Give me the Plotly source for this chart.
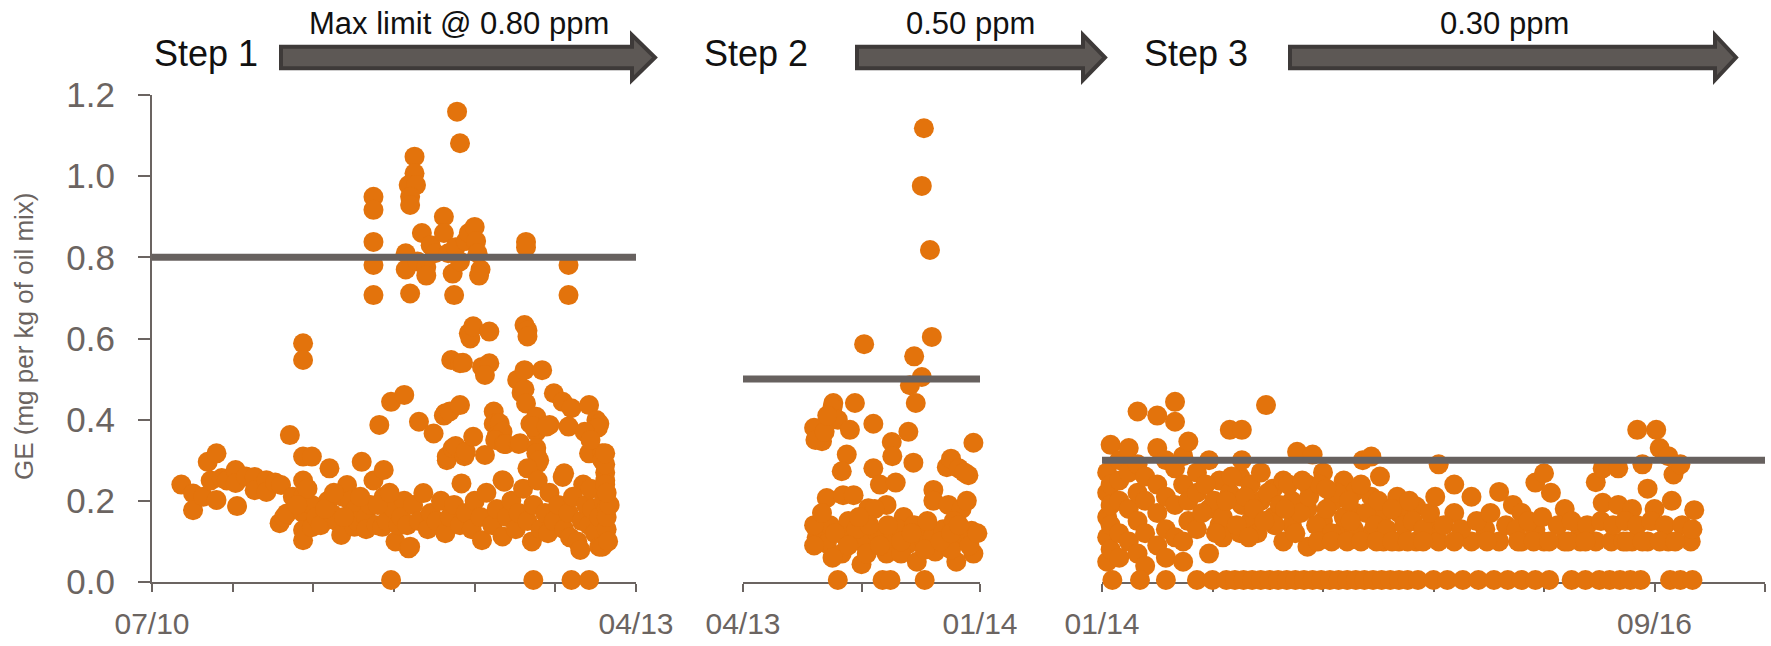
import plotly.graph_objects as go

# ---------------- data (months since start of each step, GE mg/kg) ----------------
step1_points = [
    (2.0,0.24),(2.8,0.218),(2.8,0.177),(3.5,0.21),(3.8,0.296),(4.0,0.25),(4.4,0.317),(4.4,0.202),
    (4.75,0.256),(5.1,0.25),(5.7,0.276),(5.7,0.244),(5.8,0.187),(6.4,0.26),(7.0,0.259),(7.0,0.226),
    (7.8,0.251),(7.8,0.222),(8.4,0.245),(8.8,0.239),(8.7,0.145),(9.0,0.16),(9.2,0.169),(9.4,0.362),
    (9.6,0.21),(10.3,0.588),(10.3,0.547),(10.3,0.309),(10.9,0.309),(10.3,0.25),(10.3,0.21),(10.3,0.17),
    (10.3,0.128),(10.3,0.103),(10.9,0.19),(10.9,0.135),(10.6,0.23),(11.2,0.16),(11.5,0.14),(12.0,0.2),
    (12.1,0.28),(12.25,0.169),(12.6,0.15),(12.9,0.116),(13.0,0.21),(13.3,0.239),(13.5,0.2),(13.8,0.136),
    (13.9,0.18),(14.0,0.15),(14.3,0.296),(14.6,0.16),(14.6,0.13),(14.9,0.19),(15.1,0.25),(15.3,0.14),
    (15.8,0.276),(15.8,0.21),(15.7,0.136),(16.0,0.15),(16.5,0.18),(16.6,0.10),(16.8,0.14),(17.2,0.2),
    (9.9,0.19),(11.8,0.18),(12.4,0.22),(13.1,0.16),(14.2,0.21),(15.4,0.19),(16.2,0.22),
    (16.3,0.005),
    (15.1,0.949),(15.1,0.917),(15.1,0.838),(15.1,0.781),(15.1,0.707),(17.6,0.711),(20.6,0.707),
    (28.4,0.781),(28.4,0.707),(25.5,0.838),(25.5,0.825),
    (20.8,1.159),(21.0,1.081),(17.9,1.048),(17.9,1.007),(17.5,0.978),(18.0,0.978),(17.6,0.949),(17.6,0.929),
    (17.3,0.81),(17.3,0.77),(18.1,0.79),(18.4,0.86),(18.7,0.776),(18.7,0.755),(19.0,0.83),(19.3,0.81),
    (19.9,0.90),(19.9,0.86),(20.2,0.81),(20.5,0.76),(20.7,0.825),(21.0,0.79),(21.4,0.84),(21.6,0.86),
    (22.0,0.875),(22.1,0.84),(22.2,0.81),(22.4,0.77),(22.3,0.755),
    (15.5,0.387),(16.3,0.444),(17.2,0.461),(18.2,0.395),(19.2,0.366),(19.9,0.41),(20.0,0.416),(20.3,0.42),
    (21.0,0.436),(20.1,0.30),(20.1,0.309),(20.5,0.33),(20.7,0.335),(21.3,0.31),(21.4,0.321),(21.9,0.358),
    (22.7,0.313),(23.3,0.42),(23.3,0.39),(23.7,0.391),(23.5,0.36),(23.9,0.37),(23.4,0.35),(24.0,0.34),
    (24.1,0.34),(25.0,0.34),(25.1,0.342),(25.8,0.39),(26.2,0.37),(26.2,0.33),(26.2,0.317),(26.3,0.292),
    (26.4,0.30),(25.6,0.28),(24.0,0.247),(28.1,0.268),(29.8,0.317),(30.7,0.317),(30.7,0.30),(30.9,0.27),
    (30.9,0.25),(30.9,0.29),(29.4,0.24),
    (21.6,0.613),(21.7,0.60),(21.9,0.63),(23.0,0.617),(25.4,0.633),(25.6,0.62),(25.6,0.605),(20.4,0.547),
    (21.0,0.539),(21.2,0.54),(22.5,0.53),(23.0,0.539),(22.7,0.51),(24.9,0.498),(25.4,0.522),(26.6,0.522),
    (25.2,0.466),(25.4,0.475),(25.5,0.44),(27.4,0.465),(28.0,0.444),(28.6,0.428),(29.8,0.436),(30.3,0.399),
    (30.5,0.39),(30.4,0.38),(28.4,0.383),(27.1,0.387),(26.2,0.407),(26.0,0.383),(26.9,0.383),(29.5,0.37),
    (29.9,0.35),(30.9,0.317),
    (17.0,0.16),(17.4,0.14),(17.5,0.083),(17.6,0.087),(17.8,0.19),(18.2,0.15),(18.5,0.219),(18.8,0.13),
    (19.0,0.17),(19.4,0.15),(19.7,0.2),(20.0,0.12),(20.3,0.16),(20.6,0.19),(21.0,0.14),(21.1,0.243),
    (21.4,0.17),(21.8,0.13),(22.0,0.2),(22.4,0.16),(22.5,0.103),(22.8,0.22),(23.2,0.14),(23.5,0.18),
    (23.9,0.251),(23.9,0.112),(24.2,0.16),(24.5,0.2),(24.8,0.13),(25.0,0.17),(25.3,0.23),(25.6,0.15),
    (25.9,0.10),(26.0,0.19),(26.3,0.25),(26.5,0.13),(26.8,0.17),(27.0,0.12),(27.1,0.22),(27.4,0.15),
    (27.7,0.19),(28.0,0.259),(28.1,0.13),(28.4,0.17),(28.5,0.11),(28.7,0.21),(29.0,0.10),(29.2,0.079),
    (29.3,0.15),(29.6,0.19),(29.8,0.14),(29.9,0.23),(30.0,0.18),(30.2,0.12),(30.5,0.087),(30.5,0.16),
    (30.7,0.087),(30.8,0.2),(31.0,0.13),(31.0,0.182),(31.0,0.16),(31.2,0.19),(30.9,0.24),(31.1,0.10),
    (31.0,0.22),(26.0,0.005),(28.6,0.005),(29.8,0.005),
]

step2_points = [
    (6.87,1.118),(6.79,0.976),(7.1,0.818),(7.17,0.604),(4.6,0.586),(6.5,0.556),(6.79,0.505),(6.34,0.485),
    (6.56,0.441),(3.43,0.441),(4.25,0.441),(3.4,0.43),(3.6,0.40),(2.92,0.36),(3.0,0.347),(4.06,0.375),
    (4.95,0.39),(6.28,0.37),(8.75,0.343),(3.94,0.314),(3.75,0.273),(5.65,0.345),(5.67,0.31),(6.47,0.294),
    (4.95,0.28),(7.74,0.283),(7.9,0.304),(8.56,0.263),(7.23,0.227),(3.18,0.207),(3.8,0.214),(4.2,0.214),
    (4.76,0.182),(5.45,0.19),(5.2,0.24),(5.8,0.245),(7.23,0.20),(7.8,0.19),(8.3,0.18),(8.68,0.126),
    (8.75,0.07),(8.1,0.05),(2.92,0.13),(2.8,0.11),(3.18,0.095),(3.9,0.11),(3.75,0.07),(4.5,0.10),
    (4.5,0.044),(5.1,0.12),(5.45,0.07),(5.7,0.11),(6.1,0.16),(6.3,0.095),(6.8,0.11),(7.2,0.11),
    (7.3,0.075),(7.6,0.13),(8.3,0.11),(5.0,0.18),(3.3,0.14),(4.0,0.15),(4.3,0.13),(4.8,0.14),
    (5.9,0.13),(6.5,0.14),(7.0,0.15),(8.0,0.15),(8.5,0.2),(6.0,0.07),(6.6,0.05),(7.9,0.08),
    (2.7,0.14),(2.7,0.09),(3.0,0.17),(3.4,0.06),(3.5,0.12),(4.0,0.09),(4.4,0.16),(4.7,0.07),
    (5.2,0.09),(5.5,0.14),(6.0,0.10),(6.4,0.12),(6.9,0.08),(7.5,0.10),(7.9,0.12),(8.2,0.14),
    (8.6,0.09),(8.9,0.12),(2.7,0.38),(2.75,0.35),(3.1,0.37),(3.2,0.41),(8.2,0.28),(8.4,0.27),
    (3.6,0.005),(5.3,0.005),(5.6,0.005),(6.9,0.005),
]

step3_points = [
    (0.3,0.27),(0.3,0.22),(0.3,0.16),(0.3,0.11),(0.3,0.05),
    (0.5,0.338),(0.5,0.24),(0.5,0.19),(0.5,0.14),(0.5,0.08),
    (1.0,0.30),(1.0,0.25),(1.0,0.20),(1.0,0.12),(1.0,0.06),
    (1.55,0.33),(1.55,0.27),(1.55,0.18),(1.55,0.10),
    (2.06,0.42),(2.06,0.29),(2.06,0.22),(2.06,0.15),(2.06,0.07),
    (2.5,0.26),(2.5,0.20),(2.5,0.12),(2.5,0.04),
    (3.2,0.41),(3.2,0.33),(3.2,0.24),(3.2,0.17),(3.2,0.09),
    (3.7,0.30),(3.7,0.21),(3.7,0.13),(3.7,0.06),
    (4.23,0.444),(4.23,0.395),(4.23,0.28),(4.23,0.19),(4.23,0.11),
    (4.7,0.31),(4.7,0.24),(4.7,0.10),(4.7,0.05),
    (5.0,0.346),(5.0,0.20),(5.0,0.15),(5.5,0.27),(5.5,0.22),(5.5,0.13),
    (6.2,0.30),(6.2,0.18),(6.2,0.07),(6.8,0.25),(6.8,0.14),(7.0,0.11),
    (7.4,0.375),(7.4,0.22),(8.0,0.12),(8.0,0.26),(8.1,0.375),(8.1,0.30),(8.1,0.19),
    (8.6,0.24),(8.6,0.15),(9.2,0.20),(9.2,0.27),(9.5,0.436),(9.9,0.23),(9.9,0.16),
    (10.5,0.10),(10.5,0.25),(11.0,0.20),(11.0,0.14),(11.3,0.321),(11.9,0.087),(11.9,0.24),(11.9,0.18),
    (12.2,0.314),(12.8,0.27),(12.8,0.15),(13.4,0.20),(14.0,0.25),(14.0,0.13),(14.7,0.225),(14.7,0.17),
    (15.1,0.30),(15.6,0.309),(15.6,0.21),(15.6,0.12),(16.3,0.17),(16.3,0.10),(17.1,0.21),(17.2,0.17),
    (17.2,0.10),(18.2,0.186),(18.2,0.10),(19.0,0.13),(19.5,0.29),(19.5,0.10),(20.4,0.24),(20.4,0.17),
    (21.4,0.21),(21.4,0.10),(22.2,0.13),(23.0,0.222),(23.0,0.10),(23.8,0.19),(24.3,0.17),(24.3,0.10),
    (25.1,0.245),(25.1,0.13),(25.6,0.268),(25.6,0.10),(26.0,0.22),(26.8,0.18),(26.8,0.10),(27.7,0.13),
    (27.7,0.10),(28.6,0.246),(28.6,0.10),(29.0,0.28),(29.0,0.195),(29.5,0.10),(29.9,0.28),(29.9,0.19),
    (30.2,0.10),(30.7,0.18),(30.7,0.10),(31.0,0.375),(31.3,0.29),(31.6,0.23),(31.6,0.10),(32.0,0.18),
    (32.1,0.375),(32.3,0.33),(32.8,0.31),(32.8,0.10),(33.0,0.20),(33.1,0.265),(33.5,0.29),(34.1,0.10),
    (34.3,0.177),
    (6.0,0.24),(6.5,0.20),(7.0,0.16),(7.5,0.26),(7.8,0.14),(8.3,0.21),(8.8,0.18),(9.0,0.12),(9.6,0.22),
    (10.0,0.14),(10.3,0.19),(10.8,0.24),(11.2,0.12),(11.5,0.17),(12.0,0.21),(12.4,0.14),(12.6,0.24),
    (13.0,0.18),(13.3,0.12),(13.6,0.22),(14.0,0.16),(14.3,0.20),(14.6,0.13),(15.0,0.24),(15.3,0.17),
    (15.8,0.14),(16.0,0.20),(16.5,0.13),(16.8,0.18),(17.5,0.14),(18.0,0.15),(18.6,0.13),(19.0,0.17),
    (19.8,0.14),(20.8,0.13),(21.7,0.15),(22.5,0.17),(23.4,0.14),(24.0,0.13),(24.7,0.15),(25.5,0.16),
    (26.4,0.14),(27.2,0.15),(28.1,0.14),(28.9,0.15),(29.6,0.14),(30.3,0.15),(31.0,0.14),(31.8,0.15),
    (32.6,0.14),(33.6,0.14),(34.2,0.13),
    (12.5,0.10),(13.3,0.10),(14.2,0.10),(15.0,0.10),(15.9,0.10),(16.8,0.10),(17.7,0.10),(18.6,0.10),
    (20.4,0.10),(22.3,0.10),(24.1,0.10),(25.0,0.10),(25.9,0.10),(27.0,0.10),(28.0,0.10),(30.4,0.10),
    (31.3,0.10),(32.3,0.10),(33.2,0.10),
    (5.8,0.17),(6.6,0.12),(7.2,0.20),(8.5,0.11),(9.4,0.15),(10.6,0.18),(11.6,0.25),(13.0,0.23),
    (14.4,0.15),(16.1,0.26),(17.8,0.20),(19.3,0.21),
]
step3_zero_months = [
    0.6, 2.2, 3.7, 5.5, 6.4, 7.2, 7.7, 8.2, 8.7, 9.2, 9.7, 10.2, 10.7, 11.2, 11.7, 12.2, 12.7, 13.2,
    13.7, 14.2, 14.7, 15.2, 15.7, 16.2, 16.7, 17.2, 17.7, 18.3, 19.2, 20.0, 20.9, 21.8, 22.7, 23.5,
    24.3, 25.1, 25.9, 27.2, 28.0, 28.8, 29.4, 30.0, 30.6, 31.2, 32.9, 33.5, 34.2,
]
step3_zero_value = 0.005

limits = [0.80, 0.50, 0.30]
step_spans = [33, 9, 38.4]           # months covered by each axis
step1_ticks = [0, 5.5, 11, 16.5, 22, 27.5, 33]
step1_ticktext = ["07/10", "", "", "", "", "", "04/13"]
step2_ticks = [0, 4.5, 9]
step2_ticktext = ["04/13", "", "01/14"]
step3_ticks = [0, 6.4, 12.8, 19.2, 25.6, 32.0, 38.4]
step3_ticktext = ["01/14", "", "", "", "", "09/16", ""]
y_ticks = [0, 0.2, 0.4, 0.6, 0.8, 1.0, 1.2]
step_labels = ["Step 1", "Step 2", "Step 3"]
limit_labels = ["Max limit @ 0.80 ppm", "0.50 ppm", "0.30 ppm"]
y_title = "GE (mg per kg of oil mix)"

# ---------------- styling ----------------
W, H = 1771, 646
ORANGE = "#E3730C"
GREY = "#6B6461"
LINE_GREY = "#67615F"
FONT = "Liberation Sans, Arial, sans-serif"


def px(x):
    return x / W


def py(y):
    return (H - y) / H


fig = go.Figure()

panels = [
    ("x", step1_points),
    ("x2", step2_points),
    ("x3", step3_points + [(m, step3_zero_value) for m in step3_zero_months]),
]
for xa, pts in panels:
    fig.add_trace(go.Scatter(
        x=[p[0] for p in pts], y=[p[1] for p in pts], xaxis=xa, yaxis="y",
        mode="markers", marker=dict(size=20, color=ORANGE, line=dict(width=0)),
        cliponaxis=False, showlegend=False, hoverinfo="skip"))

for xa, lim, span in zip(["x", "x2", "x3"], limits, step_spans):
    fig.add_trace(go.Scatter(
        x=[0, span], y=[lim, lim], xaxis=xa, yaxis="y", mode="lines",
        line=dict(color=LINE_GREY, width=7), cliponaxis=False,
        showlegend=False, hoverinfo="skip"))

ydom = [py(582), py(95)]
xdoms = [[px(152), px(636)], [px(743), px(980)], [px(1102), px(1765)]]

common_x = dict(showgrid=False, zeroline=False, showline=True, linecolor=GREY, linewidth=2,
                ticks="outside", ticklen=8, tickwidth=2, tickcolor=GREY, layer="below traces",
                tickfont=dict(family=FONT, size=30, color=GREY), anchor="y", automargin=False,
                ticklabelstandoff=6, fixedrange=True)

fig.update_layout(
    template="none",
    width=W, height=H, autosize=False,
    margin=dict(l=0, r=0, t=0, b=0, pad=0, autoexpand=False),
    paper_bgcolor="white", plot_bgcolor="white",
    xaxis=dict(domain=xdoms[0], range=[0, step_spans[0]], tickvals=step1_ticks,
               ticktext=step1_ticktext, **common_x),
    xaxis2=dict(domain=xdoms[1], range=[0, step_spans[1]], tickvals=step2_ticks,
                ticktext=step2_ticktext, **common_x),
    xaxis3=dict(domain=xdoms[2], range=[0, step_spans[2]], tickvals=step3_ticks,
                ticktext=step3_ticktext, **common_x),
    yaxis=dict(domain=ydom, range=[0, 1.2], anchor="x", tickvals=y_ticks,
               ticktext=[f"{v:.1f}" for v in y_ticks], showgrid=False, zeroline=False,
               showline=True, linecolor=GREY, linewidth=2, ticks="outside", ticklen=12,
               tickwidth=2, tickcolor=GREY, layer="below traces", ticklabelstandoff=16,
               automargin=False,
               tickfont=dict(family=FONT, size=35, color=GREY), fixedrange=True),
    showlegend=False,
)

# block arrows (decoration)
arrows = [(281, 632, 655), (857, 1083, 1105), (1290, 1715, 1736)]
yc, bh, hh = 57.5, 10.8, 22.5
for x0, xh, xt in arrows:
    path = (f"M {px(x0)} {py(yc-bh)} L {px(xh)} {py(yc-bh)} L {px(xh)} {py(yc-hh)} "
            f"L {px(xt)} {py(yc)} L {px(xh)} {py(yc+hh)} L {px(xh)} {py(yc+bh)} "
            f"L {px(x0)} {py(yc+bh)} Z")
    fig.add_shape(type="path", path=path, xref="paper", yref="paper",
                  fillcolor="#5D5855", line=dict(color="#3E3A39", width=4))

step_x = [206, 756, 1196]
limit_x = [459, 970, 1504]
for lab, x in zip(step_labels, step_x):
    fig.add_annotation(text=lab, x=px(x), y=py(54), xref="paper", yref="paper",
                       xanchor="center", yanchor="middle", showarrow=False,
                       font=dict(family=FONT, size=36, color="#111111"))
for lab, x in zip(limit_labels, limit_x):
    fig.add_annotation(text=lab, x=px(x), y=py(24), xref="paper", yref="paper",
                       xanchor="center", yanchor="middle", showarrow=False,
                       font=dict(family=FONT, size=31, color="#111111"))

fig.add_annotation(text=y_title, x=px(24), y=py(336), xref="paper", yref="paper",
                   xanchor="center", yanchor="middle", showarrow=False, textangle=-90,
                   font=dict(family=FONT, size=26, color=GREY))

fig.write_html("out.html", config={"displayModeBar": False},
               post_script="document.body.style.margin='0';")
